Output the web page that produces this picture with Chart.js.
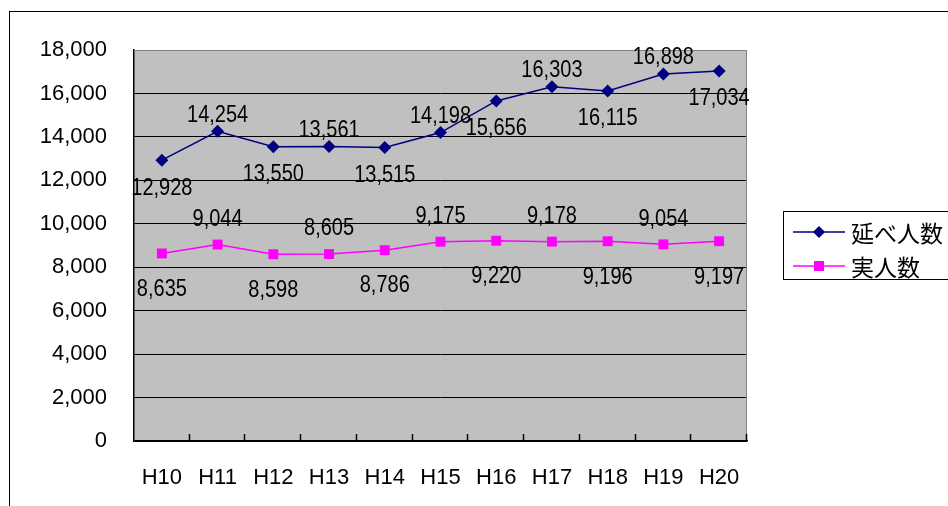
<!DOCTYPE html>
<html>
<head>
<meta charset="utf-8">
<script src="https://cdn.jsdelivr.net/npm/chart.js@4.4.0/dist/chart.umd.min.js"></script>
<style>
  html, body { margin: 0; padding: 0; background: #fff; }
  #wrap { width: 948px; height: 506px; }
</style>
</head>
<body>
<div id="wrap"><canvas id="c" width="948" height="506"></canvas></div>
<script>
// 年度
const years = ['H10', 'H11', 'H12', 'H13', 'H14', 'H15', 'H16', 'H17', 'H18', 'H19', 'H20'];
// 延べ人数
const totalVisits = [12928, 14254, 13550, 13561, 13515, 14198, 15656, 16303, 16115, 16898, 17034];
// 実人数
const actualPeople = [8635, 9044, 8598, 8605, 8786, 9175, 9220, 9178, 9196, 9054, 9197];
// 凡例
const seriesNames = ['延べ人数', '実人数'];
// 縦軸
const yMin = 0;
const yMax = 18000;
const yStep = 2000;

const FONT = '"Liberation Sans", Arial, sans-serif';
const CJK = '"Noto Sans CJK JP", "Liberation Sans", sans-serif';

const fmt = v => v.toLocaleString('en-US');

// 背景・枠・目盛り・データラベル・凡例
const excelLook = {
    id: 'excelLook',
    beforeDraw(chart) {
        const { ctx, chartArea: a } = chart;
        ctx.save();
        ctx.fillStyle = '#fff';
        ctx.fillRect(0, 0, chart.width, chart.height);
        ctx.fillStyle = '#c0c0c0';
        ctx.fillRect(a.left, a.top, a.right - a.left, a.bottom - a.top);
        ctx.restore();
    },
    afterDraw(chart) {
        const { ctx, chartArea: a } = chart;
        ctx.save();

        // 外枠
        ctx.strokeStyle = '#000';
        ctx.lineWidth = 1;
        ctx.strokeRect(9.5, 11.5, 1200, 1200);

        // プロットエリアの上・右枠
        ctx.strokeStyle = '#808080';
        ctx.beginPath();
        ctx.moveTo(a.left, a.top + 0.5);
        ctx.lineTo(a.right - 0.5, a.top + 0.5);
        ctx.lineTo(a.right - 0.5, a.bottom);
        ctx.stroke();

        // 横軸の目盛り（内向き）
        ctx.strokeStyle = '#000';
        ctx.lineWidth = 1.5;
        const n = years.length;
        const w = (a.right - a.left) / n;
        ctx.beginPath();
        for (let i = 1; i <= n; i++) {
            const x = Math.round(a.left + i * w) - 0.5;
            ctx.moveTo(x, a.bottom);
            ctx.lineTo(x, a.bottom - 7);
        }
        ctx.stroke();

        // データラベル（交互に上下、少し縦長）
        ctx.fillStyle = '#000';
        ctx.font = '20px ' + FONT;
        ctx.textAlign = 'center';
        ctx.textBaseline = 'middle';
        chart.data.datasets.forEach((ds, di) => {
            const meta = chart.getDatasetMeta(di);
            meta.data.forEach((pt, i) => {
                const dy = i % 2 ? ds.labelAbove : ds.labelBelow;
                ctx.save();
                ctx.translate(pt.x, pt.y + dy);
                ctx.scale(1, 1.15);
                ctx.fillText(fmt(ds.data[i]), 0, 0);
                ctx.restore();
            });
        });

        // 凡例
        const lx = 783.5, ly = 211.5;
        ctx.strokeStyle = '#000';
        ctx.lineWidth = 1;
        ctx.strokeRect(lx, ly, 300, 68);
        ctx.font = '23px ' + CJK;
        ctx.textAlign = 'left';
        chart.data.datasets.forEach((ds, di) => {
            const y = 232 + di * 34;
            ctx.strokeStyle = ds.borderColor;
            ctx.lineWidth = 1.5;
            ctx.beginPath();
            ctx.moveTo(793, y);
            ctx.lineTo(845, y);
            ctx.stroke();
            ctx.fillStyle = ds.borderColor;
            if (ds.pointStyle === 'rectRot') {
                ctx.beginPath();
                ctx.moveTo(819, y - 6);
                ctx.lineTo(825, y);
                ctx.lineTo(819, y + 6);
                ctx.lineTo(813, y);
                ctx.closePath();
                ctx.fill();
            } else {
                ctx.fillRect(814, y - 5, 10, 10);
            }
            ctx.fillStyle = '#000';
            ctx.fillText(ds.label, 851, y + 1);
        });

        ctx.restore();
    }
};

new Chart(document.getElementById('c'), {
    type: 'line',
    data: {
        labels: years,
        datasets: [{
            label: seriesNames[0],
            data: totalVisits,
            borderColor: '#000080',
            backgroundColor: '#000080',
            borderWidth: 1.5,
            pointStyle: 'rectRot',
            pointRadius: 6.5,
            pointBorderWidth: 0,
            tension: 0,
            labelAbove: -16,
            labelBelow: 28
        }, {
            label: seriesNames[1],
            data: actualPeople,
            borderColor: '#ff00ff',
            backgroundColor: '#ff00ff',
            borderWidth: 1.5,
            pointStyle: 'rect',
            pointRadius: 7,
            pointBorderWidth: 0,
            tension: 0,
            labelAbove: -25,
            labelBelow: 36
        }]
    },
    options: {
        responsive: false,
        animation: false,
        layout: { padding: { left: 10, top: 50, right: 201, bottom: 0 } },
        plugins: {
            legend: { display: false },
            tooltip: { enabled: false }
        },
        scales: {
            x: {
                offset: true,
                grid: { display: false, drawTicks: false },
                border: { display: true, color: '#000', width: 1.5 },
                ticks: { color: '#000', font: { family: FONT, size: 22 }, padding: 24, maxRotation: 0 },
                afterFit: s => { s.height = 65; }
            },
            y: {
                min: yMin,
                max: yMax,
                grid: {
                    color: ctx => ctx.tick && ctx.tick.value === yMax ? '#808080' : '#000',
                    lineWidth: 1,
                    drawTicks: false
                },
                border: { display: true, color: '#000', width: 1.5 },
                ticks: {
                    stepSize: yStep,
                    color: '#000',
                    padding: 27,
                    font: { family: FONT, size: 22 },
                    callback: v => fmt(v)
                },
                afterFit: s => { s.width = 124; }
            }
        }
    },
    plugins: [excelLook]
});
</script>
</body>
</html>
